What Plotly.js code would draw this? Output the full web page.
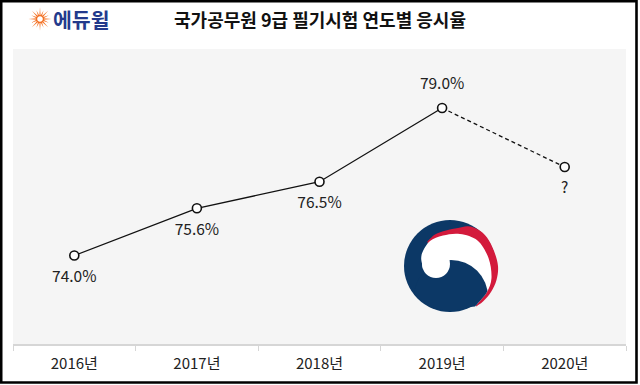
<!DOCTYPE html>
<html>
<head>
<meta charset="utf-8">
<script src="https://cdn.plot.ly/plotly-3.0.1.min.js"></script>
<style>
  html, body { margin: 0; padding: 0; background: #ffffff; }
  #chart { width: 640px; height: 385px; }
</style>
</head>
<body>
<div id="chart"></div>
<script>
// ---- data ----
const years = ['2016년', '2017년', '2018년', '2019년', '2020년'];
const rates = [74.0, 75.6, 76.5, 79.0];          // 2016–2019 응시율 (%)
const marker2020 = 77.0;                          // height of the "?" point (value not published)
const pointLabels = ['74.0%', '75.6%', '76.5%', '79.0%', '?'];
const labelPositions = ['bottom center', 'bottom center', 'bottom center', 'top center', 'bottom center'];

const titleText = '국가공무원 9급 필기시험 연도별 응시율';
const logoText = '에듀윌';

// ---- geometry helpers (pixel -> paper) ----
const W = 640, H = 385;
const M = { l: 13, r: 14, t: 49, b: 41 };
const PW = W - M.l - M.r, PH = H - M.t - M.b;
const xp = px => (px - M.l) / PW;
const yp = py => (H - M.b - py) / PH;

const FONT = '"Noto Sans CJK KR", "Noto Sans", sans-serif';
const NAVY = '#0c3866', RED = '#d31a3c';

// ---- decorative emblem (smooth curves through outline points) ----
function smooth(pts) {
  let d = '';
  for (let i = 0; i < pts.length - 1; i++) {
    const p0 = pts[Math.max(i - 1, 0)], p1 = pts[i], p2 = pts[i + 1], p3 = pts[Math.min(i + 2, pts.length - 1)];
    const c1 = [p1[0] + (p2[0] - p0[0]) / 6, p1[1] + (p2[1] - p0[1]) / 6];
    const c2 = [p2[0] - (p3[0] - p1[0]) / 6, p2[1] - (p3[1] - p1[1]) / 6];
    d += ' C ' + c1.map(v => v.toFixed(2)).join(' ') + ' ' + c2.map(v => v.toFixed(2)).join(' ') + ' ' + p2.map(v => v.toFixed(2)).join(' ');
  }
  return d;
}
const redOuter = [[-23, -24], [-15, -31.5], [-4, -35.5], [8, -38], [18, -39.8], [28, -36.5], [37, -28.5], [44, -15], [48, 0], [46.5, 14], [41, 26], [33, 35.5], [26, 40.5]];
const redPath = 'M ' + redOuter[0].join(' ') + smooth(redOuter) + ' L 15 15 L 0 -5 L -18 -20 Z';
const whiteEdge = [[-27.9, -2], [-28.8, -8], [-27, -15], [-20, -25], [-7, -30.5], [10, -32], [27.5, -25.5], [38.5, -8], [41.5, 12], [37, 26], [29, 36], [25, 40.5]];
const whitePath = 'M ' + whiteEdge[0].join(' ') + smooth(whiteEdge) + ' L 10 22 L -15 10 L -27 2 Z';
const lobeClip = 'M ' + whiteEdge[0].join(' ') + smooth(whiteEdge) + ' L 20 41 L 0 45.5 L -20 41 L -35 29.5 L -40 20 L -32 0 Z';

const emblemSvg =
  '<svg xmlns="http://www.w3.org/2000/svg" viewBox="-50 -50 100 100" width="100" height="100">' +
  '<defs><clipPath id="w"><path d="' + lobeClip + '"/></clipPath></defs>' +
  '<circle cx="0" cy="0" r="46" fill="' + NAVY + '"/>' +
  '<path d="' + redPath + '" fill="' + RED + '"/>' +
  '<path d="' + whitePath + '" fill="#ffffff"/>' +
  '<circle cx="1" cy="31" r="37" fill="' + NAVY + '" clip-path="url(#w)"/>' +
  '<circle cx="-14" cy="-2" r="14" fill="#ffffff"/>' +
  '</svg>';

let rays = '';
for (let i = 0; i < 16; i++) {
  const a = i * Math.PI / 8;
  const rIn = 3.2, rOut = (i % 2 === 0) ? 11.5 : 9.5, hw = 0.2;
  const p1 = [rIn * Math.cos(a - hw), rIn * Math.sin(a - hw)];
  const p2 = [rOut * Math.cos(a), rOut * Math.sin(a)];
  const p3 = [rIn * Math.cos(a + hw), rIn * Math.sin(a + hw)];
  rays += '<polygon points="' + [p1, p2, p3].map(p => p[0].toFixed(2) + ',' + p[1].toFixed(2)).join(' ') + '" fill="#f36f21"/>';
}
rays += '<circle cx="0" cy="0" r="3.4" fill="none" stroke="#f36f21" stroke-width="1.2"/>';
const sunSvg = '<svg xmlns="http://www.w3.org/2000/svg" viewBox="-12 -12 24 24" width="24" height="24">' + rays + '</svg>';
const svgUri = s => 'data:image/svg+xml;charset=utf-8,' + encodeURIComponent(s);

// ---- traces ----
const solidLine = {
  x: years.slice(0, 4), y: rates, type: 'scatter', mode: 'lines',
  line: { color: '#111111', width: 1.3 }, hoverinfo: 'skip', showlegend: false
};
const dashedLine = {
  x: [years[3], years[4]], y: [rates[3], marker2020], type: 'scatter', mode: 'lines',
  line: { color: '#111111', width: 1.3, dash: '4px,3px' }, hoverinfo: 'skip', showlegend: false
};
const points = {
  x: years, y: rates.concat([marker2020]), type: 'scatter', mode: 'markers',
  marker: { size: 9, color: '#ffffff', line: { color: '#111111', width: 1.6 } },
  cliponaxis: false, showlegend: false
};
const labelsTrace = {
  x: years, y: rates.concat([marker2020]), type: 'scatter', mode: 'markers+text',
  text: pointLabels, textposition: labelPositions,
  textfont: { family: FONT, size: 15.5, color: '#222222' },
  marker: { size: 22, color: 'rgba(0,0,0,0)', line: { width: 0 } },
  cliponaxis: false, showlegend: false
};

const layout = {
  width: W, height: H,
  margin: M,
  paper_bgcolor: '#ffffff',
  plot_bgcolor: '#f5f5f5',
  showlegend: false,
  font: { family: FONT, color: '#222222' },
  title: {
    text: titleText,
    font: { family: FONT, size: 18, color: '#111111', weight: 700 },
    x: 0.5, xref: 'container', xanchor: 'center',
    y: 1 - 20.5 / H, yref: 'container', yanchor: 'middle'
  },
  xaxis: {
    type: 'category', range: [-0.5, 4.5], fixedrange: true,
    showgrid: false, zeroline: false,
    showline: true, linecolor: '#d6d6d6', linewidth: 1.5,
    ticks: 'outside', tickson: 'boundaries', ticklen: 5, tickcolor: '#d6d6d6', tickwidth: 1,
    ticklabelstandoff: 5,
    tickfont: { family: FONT, size: 15, color: '#222222' }
  },
  yaxis: { visible: false, range: [71, 81], fixedrange: true },
  annotations: [{
    text: '<b>' + logoText + '</b>', xref: 'paper', yref: 'paper',
    x: xp(51), y: yp(19.5), xanchor: 'left', yanchor: 'middle', showarrow: false,
    font: { family: FONT, size: 20.5, color: '#233a8c' }
  }],
  images: [
    { source: svgUri(emblemSvg), xref: 'paper', yref: 'paper', x: xp(450), y: yp(266),
      sizex: 100 / PW, sizey: 100 / PH, xanchor: 'center', yanchor: 'middle', sizing: 'stretch', layer: 'above' },
    { source: svgUri(sunSvg), xref: 'paper', yref: 'paper', x: xp(40), y: yp(19),
      sizex: 24 / PW, sizey: 24 / PH, xanchor: 'center', yanchor: 'middle', sizing: 'stretch', layer: 'above' }
  ],
  shapes: [{
    type: 'rect', xref: 'paper', yref: 'paper',
    x0: xp(1.2), x1: xp(636.5), y0: yp(382.5), y1: yp(1.2),
    line: { color: '#000000', width: 2.6 }, fillcolor: 'rgba(0,0,0,0)'
  }]
};

Plotly.newPlot('chart', [solidLine, dashedLine, points, labelsTrace], layout, { displayModeBar: false, staticPlot: true });
</script>
</body>
</html>
